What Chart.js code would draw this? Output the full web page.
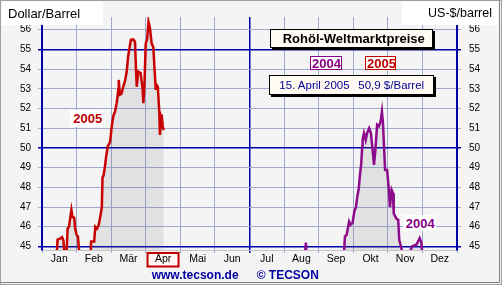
<!DOCTYPE html>
<html>
<head>
<meta charset="utf-8">
<script src="https://cdn.jsdelivr.net/npm/chart.js@4"></script>
<style>
  body { margin:0; background:#fff; }
  #wrap { position:relative; width:502px; height:285px; font-family:'Liberation Sans', Arial, sans-serif; }
  #wrap canvas { position:absolute; left:0; top:0; }
  .t { position:absolute; white-space:nowrap; line-height:1; }
  .box { position:absolute; box-sizing:border-box; }
</style>
</head>
<body>
<div id="wrap">
  <canvas id="c" width="502" height="285"></canvas>

  <div class="box" style="left:2px;top:2px;width:101px;height:23px;background:#fff"></div>
  <div class="t" style="left:8px;top:7px;font-size:13px;color:#000">Dollar/Barrel</div>
  <div class="box" style="left:402px;top:2px;width:96px;height:23px;background:#fff"></div>
  <div class="t" style="right:10px;top:7.4px;font-size:12.5px;color:#000">US-$/barrel</div>

  <div class="box" style="left:270px;top:29px;width:163px;height:19px;background:#fffaf2;border:1px solid #000;box-shadow:2px 2px 0 #000"></div>
  <div class="t" style="left:282.7px;top:32.3px;font-size:13px;font-weight:bold;color:#000">Rohöl-Weltmarktpreise</div>

  <div class="box" style="left:310px;top:56px;width:32px;height:14px;background:#fff;border:1px solid #880088"></div>
  <div class="t" style="left:312px;top:56.7px;font-size:13px;font-weight:bold;color:#880088">2004</div>
  <div class="box" style="left:365px;top:56px;width:31px;height:14px;background:#fff;border:1px solid #c00000"></div>
  <div class="t" style="left:367px;top:56.7px;font-size:13px;font-weight:bold;color:#c00000">2005</div>

  <div class="box" style="left:269px;top:75px;width:165px;height:20px;background:#fffaf2;border:1px solid #000;box-shadow:2px 2px 0 #000"></div>
  <div class="t" style="left:279.3px;top:80.3px;font-size:11.5px;color:#000099">15. April 2005</div>
  <div class="t" style="left:358.3px;top:80.3px;font-size:11.5px;color:#000099">50,9 $/Barrel</div>

  <div class="box" style="left:70px;top:110px;width:33px;height:17px;background:#fff"></div>
  <div class="t" style="left:73.3px;top:111.7px;font-size:13px;font-weight:bold;color:#c00000">2005</div>
  <div class="box" style="left:403px;top:215px;width:33px;height:16px;background:#fff"></div>
  <div class="t" style="left:405.7px;top:217.3px;font-size:13px;font-weight:bold;color:#880088">2004</div>

  <div class="t" style="left:151.7px;top:269.1px;font-size:12px;font-weight:bold;color:#0000a0">www.tecson.de</div>
  <div class="t" style="left:256.7px;top:269px;font-size:12px;font-weight:bold;color:#0000a0">© TECSON</div>
</div>
<script>
const months = ['Jan','Feb','Mär','Apr','Mai','Jun','Jul','Aug','Sep','Okt','Nov','Dez'];
const yTicks = [45,46,47,48,49,50,51,52,53,54,55,56];

// x = position in months (0 = 1. Jan, 12 = 31. Dez)
const t2005 = [0, 0.3, 0.42, 0.45, 0.52, 0.58, 0.62, 0.65, 0.71, 0.74, 0.78, 0.85, 0.88, 0.93, 0.96,
  1.0, 1.04, 1.08, 1.24, 1.41, 1.42, 1.51, 1.54, 1.59, 1.64, 1.68, 1.73, 1.75, 1.78, 1.82, 1.85, 1.9, 1.97,
  2.01, 2.06, 2.11, 2.16, 2.21, 2.22, 2.25, 2.3, 2.34, 2.4, 2.45, 2.49, 2.57, 2.64, 2.69, 2.72, 2.74, 2.78,
  2.85, 2.91, 2.93, 2.96, 3.0, 3.04, 3.08, 3.12, 3.17, 3.22, 3.25, 3.29, 3.31, 3.35, 3.39, 3.41, 3.46, 3.49, 3.52];
const p2005 = [42.0, 43.5, 44.4, 45.35, 45.4, 45.47, 45.3, 44.6, 44.6, 45.9, 46.0, 46.85, 46.5, 46.46, 45.9,
  45.6, 45.5, 44.6, 44.2, 44.7, 45.25, 45.25, 46.0, 45.9, 46.1, 46.45, 47.0, 48.5, 48.6, 49.05, 49.5, 50.07, 50.3,
  51.0, 51.6, 51.84, 52.27, 53.0, 53.45, 52.7, 52.75, 53.05, 53.4, 53.87, 54.63, 55.48, 55.5, 55.38, 53.87, 53.1, 53.87,
  53.8, 53.0, 52.27, 53.1, 55.3, 55.5, 56.4, 56.1, 55.3, 55.1, 54.13, 52.94, 53.2, 53.1, 51.84, 50.66, 51.7, 51.1, 50.9];

const t2004 = [6.0, 7.0, 7.58, 7.63, 7.67, 7.9, 8.2, 8.65, 8.73, 8.76, 8.81, 8.88, 8.92, 8.98, 9.03,
  9.08, 9.11, 9.16, 9.19, 9.23, 9.26, 9.27, 9.31, 9.36, 9.40, 9.46, 9.51, 9.56, 9.60, 9.64, 9.69, 9.74,
  9.79, 9.83, 9.86, 9.89, 9.92, 9.98, 10.03, 10.06, 10.11, 10.15, 10.17, 10.25, 10.30, 10.33, 10.38, 10.43,
  10.64, 10.70, 10.83, 10.92, 10.97, 11.0, 11.5, 12.0];
const p2004 = [38.0, 42.5, 44.0, 45.2, 44.0, 42.0, 43.0, 44.0, 44.6, 45.5, 45.6, 46.26, 46.1, 46.2, 46.77,
  47.0, 47.45, 47.95, 48.55, 49.2, 50.07, 50.4, 50.75, 50.4, 50.75, 51.0, 50.75, 49.9, 49.14, 49.9, 51.17, 51.1,
  51.33, 51.84, 51.25, 50.07, 48.88, 48.88, 47.87, 47.0, 47.87, 47.7, 46.68, 46.4, 46.35, 45.33, 45.0, 44.6,
  44.7, 45.0, 45.1, 45.42, 45.2, 44.5, 41.0, 40.0];

const DARK = '#0000a8', LIGHT = '#a0a8d0';
const zip = (xs, ys) => xs.map((x, i) => ({x: x, y: ys[i]}));

Chart.defaults.font.family = "'Liberation Sans', Arial, sans-serif";
Chart.defaults.color = '#000';

const decor = {
  id: 'decor',
  beforeDraw(chart){
    const ctx = chart.ctx, x = chart.scales.x;
    ctx.save();
    ctx.fillStyle = '#f4f4f4';
    ctx.fillRect(0, 0, chart.width, chart.height);
    ctx.strokeStyle = '#a0a0a0';
    ctx.lineWidth = 1;
    ctx.strokeRect(0.5, 0.5, chart.width - 1, chart.height - 1);
    ctx.strokeStyle = '#808080';
    ctx.beginPath();
    ctx.moveTo(chart.width - 2.5, 1); ctx.lineTo(chart.width - 2.5, chart.height - 2.5); ctx.lineTo(1, chart.height - 2.5);
    ctx.stroke();
    // current month highlighted
    const cx = x.getPixelForValue(3.5);
    ctx.fillStyle = '#fff6f2';
    ctx.fillRect(cx - 15.5, 253, 31, 13.5);
    ctx.strokeStyle = '#c00000';
    ctx.lineWidth = 2;
    ctx.strokeRect(cx - 15.5, 253, 31, 13.5);
    ctx.restore();
  }
};

const isDarkY = c => c.tick && c.tick.value % 5 === 0;
const isDarkX = c => c.tick && c.tick.value === 6;

new Chart(document.getElementById('c'), {
  type: 'line',
  data: {
    datasets: [
      { label: '2004', data: zip(t2004, p2004), borderColor: '#8c0a8c', borderWidth: 2.5,
        backgroundColor: 'rgba(100,100,100,0.13)', fill: 'start', pointRadius: 0, tension: 0 },
      { label: '2005', data: zip(t2005, p2005), borderColor: '#c80000', borderWidth: 2.5,
        backgroundColor: 'rgba(100,100,100,0.13)', fill: 'start', pointRadius: 0, tension: 0 }
    ]
  },
  options: {
    responsive: false,
    animation: false,
    events: [],
    layout: { padding: { top: 17, left: 0, right: 0, bottom: 0 } },
    plugins: { legend: { display: false }, tooltip: { enabled: false } },
    scales: {
      x: {
        type: 'linear', min: 0, max: 12,
        afterBuildTicks: s => { s.ticks = months.map((m, i) => ({value: i})).concat([{value: 12}]); },
        afterFit: s => { s.height = 35; },
        grid: { color: c => isDarkX(c) ? DARK : LIGHT, lineWidth: c => isDarkX(c) ? 1.5 : 1, tickLength: 3 },
        border: { color: '#c4c4c4' },
        ticks: { callback: v => months[v] || '', labelOffset: 17.3, padding: 0, maxRotation: 0,
                 autoSkip: false, font: { size: 10.5 } }
      },
      y: {
        position: 'left', min: 44.82, max: 56.64,
        afterBuildTicks: s => { s.ticks = yTicks.map(v => ({value: v})); },
        afterFit: s => { s.width = 42; },
        grid: { color: c => isDarkY(c) ? DARK : LIGHT, lineWidth: c => isDarkY(c) ? 1.5 : 1, tickLength: 4 },
        border: { color: DARK, width: 2 },
        ticks: { padding: 7, font: { size: 10 } }
      },
      y2: {
        position: 'right', min: 44.82, max: 56.64,
        afterBuildTicks: s => { s.ticks = yTicks.map(v => ({value: v})); },
        afterFit: s => { s.width = 45; },
        grid: { color: c => isDarkY(c) ? DARK : LIGHT, lineWidth: c => isDarkY(c) ? 1.5 : 1,
                tickLength: 4, drawOnChartArea: false },
        border: { color: DARK, width: 2 },
        ticks: { padding: 8, font: { size: 10 } }
      }
    }
  },
  plugins: [decor]
});
</script>
</body>
</html>
